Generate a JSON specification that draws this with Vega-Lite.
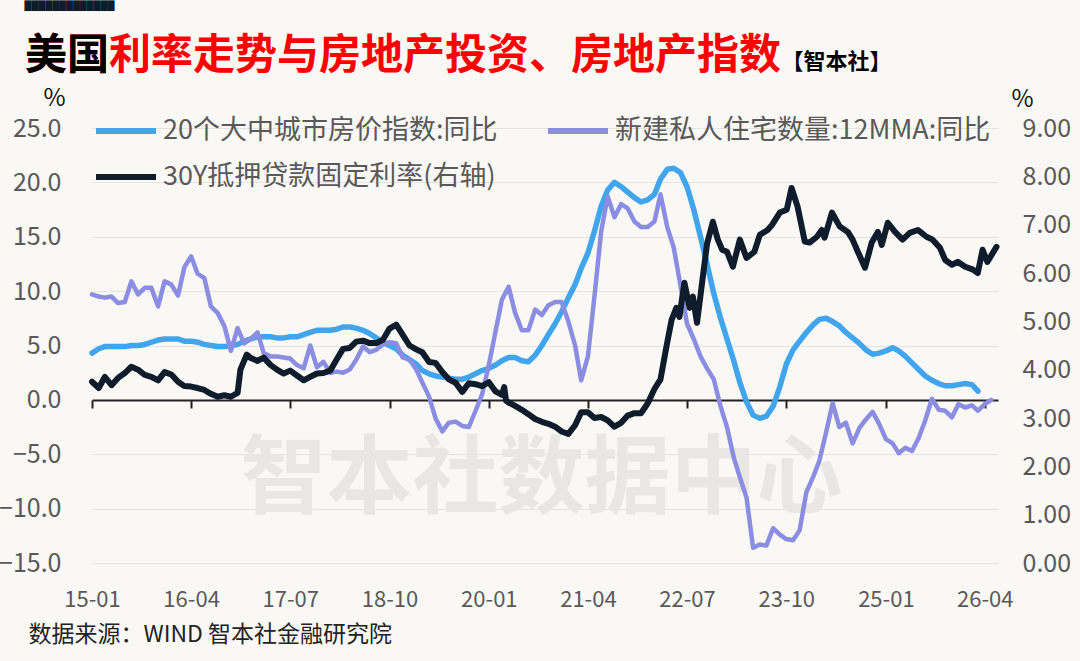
{
  "$schema": "https://vega.github.io/schema/vega-lite/v6.json",
  "width": 906,
  "height": 435,
  "autosize": {"type": "none"},
  "padding": {"left": 92, "top": 128, "right": 82, "bottom": 98},
  "background": "#f9f8f5",
  "title": {
    "text": "美国利率走势与房地产投资、房地产指数",
    "subtitle": "美国",
    "anchor": "start",
    "frame": "group",
    "dx": -67,
    "offset": -77,
    "font": "Noto Sans CJK SC",
    "fontSize": 42,
    "fontWeight": "bold",
    "color": "#ff0000",
    "subtitleFont": "Noto Sans CJK SC",
    "subtitleFontSize": 42,
    "subtitleFontWeight": "bold",
    "subtitleColor": "#000000",
    "subtitlePadding": -42
  },
  "datasets": {
    "house": [
      {"d":"2015/01/01","a":4.3,"b":9.7},
      {"d":"2015/02/01","a":4.7,"b":9.5},
      {"d":"2015/03/01","a":4.9,"b":9.4},
      {"d":"2015/04/01","a":4.9,"b":9.5},
      {"d":"2015/05/01","a":4.9,"b":8.9},
      {"d":"2015/06/01","a":4.9,"b":9.0},
      {"d":"2015/07/01","a":5.0,"b":10.9},
      {"d":"2015/08/01","a":5.0,"b":9.7},
      {"d":"2015/09/01","a":5.1,"b":10.3},
      {"d":"2015/10/01","a":5.3,"b":10.3},
      {"d":"2015/11/01","a":5.5,"b":8.6},
      {"d":"2015/12/01","a":5.6,"b":10.9},
      {"d":"2016/01/01","a":5.6,"b":10.6},
      {"d":"2016/02/01","a":5.6,"b":9.6},
      {"d":"2016/03/01","a":5.4,"b":12.2},
      {"d":"2016/04/01","a":5.4,"b":13.2},
      {"d":"2016/05/01","a":5.3,"b":11.6},
      {"d":"2016/06/01","a":5.1,"b":11.2},
      {"d":"2016/07/01","a":5.0,"b":8.6},
      {"d":"2016/08/01","a":4.9,"b":8.0},
      {"d":"2016/09/01","a":4.9,"b":6.8},
      {"d":"2016/10/01","a":5.0,"b":4.5},
      {"d":"2016/11/01","a":5.1,"b":6.6},
      {"d":"2016/12/01","a":5.4,"b":5.2},
      {"d":"2017/01/01","a":5.6,"b":5.6},
      {"d":"2017/02/01","a":5.8,"b":6.2},
      {"d":"2017/03/01","a":5.8,"b":4.3},
      {"d":"2017/04/01","a":5.8,"b":4.0},
      {"d":"2017/05/01","a":5.7,"b":4.0},
      {"d":"2017/06/01","a":5.7,"b":3.9},
      {"d":"2017/07/01","a":5.8,"b":3.8},
      {"d":"2017/08/01","a":5.8,"b":3.2},
      {"d":"2017/09/01","a":6.0,"b":2.9},
      {"d":"2017/10/01","a":6.2,"b":5.0},
      {"d":"2017/11/01","a":6.4,"b":3.0},
      {"d":"2017/12/01","a":6.4,"b":3.5},
      {"d":"2018/01/01","a":6.4,"b":2.5},
      {"d":"2018/02/01","a":6.5,"b":2.6},
      {"d":"2018/03/01","a":6.7,"b":2.5},
      {"d":"2018/04/01","a":6.7,"b":2.8},
      {"d":"2018/05/01","a":6.6,"b":3.7},
      {"d":"2018/06/01","a":6.4,"b":4.9},
      {"d":"2018/07/01","a":6.1,"b":4.4},
      {"d":"2018/08/01","a":5.7,"b":4.6},
      {"d":"2018/09/01","a":5.3,"b":5.1},
      {"d":"2018/10/01","a":5.0,"b":5.3},
      {"d":"2018/11/01","a":4.7,"b":5.2},
      {"d":"2018/12/01","a":4.1,"b":3.9},
      {"d":"2019/01/01","a":3.7,"b":3.7},
      {"d":"2019/02/01","a":3.3,"b":2.8},
      {"d":"2019/03/01","a":2.7,"b":1.6},
      {"d":"2019/04/01","a":2.4,"b":0.3},
      {"d":"2019/05/01","a":2.2,"b":-1.7},
      {"d":"2019/06/01","a":2.1,"b":-2.9},
      {"d":"2019/07/01","a":2.0,"b":-2.1},
      {"d":"2019/08/01","a":1.9,"b":-2.0},
      {"d":"2019/09/01","a":1.9,"b":-2.4},
      {"d":"2019/10/01","a":2.1,"b":-2.5},
      {"d":"2019/11/01","a":2.4,"b":-1.0},
      {"d":"2019/12/01","a":2.7,"b":0.5},
      {"d":"2020/01/01","a":2.9,"b":3.2},
      {"d":"2020/02/01","a":3.2,"b":6.3},
      {"d":"2020/03/01","a":3.6,"b":9.2},
      {"d":"2020/04/01","a":3.9,"b":10.4},
      {"d":"2020/05/01","a":3.9,"b":8.0},
      {"d":"2020/06/01","a":3.6,"b":6.4},
      {"d":"2020/07/01","a":3.5,"b":6.4},
      {"d":"2020/08/01","a":4.1,"b":8.3},
      {"d":"2020/09/01","a":5.0,"b":7.8},
      {"d":"2020/10/01","a":6.0,"b":8.7},
      {"d":"2020/11/01","a":7.0,"b":9.0},
      {"d":"2020/12/01","a":8.1,"b":9.0},
      {"d":"2021/01/01","a":9.4,"b":7.2},
      {"d":"2021/02/01","a":10.6,"b":5.0},
      {"d":"2021/03/01","a":12.1,"b":1.8},
      {"d":"2021/04/01","a":13.5,"b":4.0},
      {"d":"2021/05/01","a":15.5,"b":9.5},
      {"d":"2021/06/01","a":17.8,"b":15.5},
      {"d":"2021/07/01","a":19.3,"b":18.7},
      {"d":"2021/08/01","a":20.0,"b":16.8},
      {"d":"2021/09/01","a":19.6,"b":18.0},
      {"d":"2021/10/01","a":19.1,"b":17.6},
      {"d":"2021/11/01","a":18.6,"b":16.4},
      {"d":"2021/12/01","a":18.2,"b":15.9},
      {"d":"2022/01/01","a":18.4,"b":15.9},
      {"d":"2022/02/01","a":18.9,"b":16.4},
      {"d":"2022/03/01","a":20.3,"b":18.9},
      {"d":"2022/04/01","a":21.2,"b":15.9},
      {"d":"2022/05/01","a":21.3,"b":14.0},
      {"d":"2022/06/01","a":20.9,"b":10.5},
      {"d":"2022/07/01","a":19.6,"b":7.0},
      {"d":"2022/08/01","a":17.5,"b":5.6},
      {"d":"2022/09/01","a":15.0,"b":4.0},
      {"d":"2022/10/01","a":12.5,"b":2.9},
      {"d":"2022/11/01","a":9.8,"b":1.9},
      {"d":"2022/12/01","a":7.6,"b":-0.5},
      {"d":"2023/01/01","a":5.6,"b":-2.5},
      {"d":"2023/02/01","a":3.6,"b":-5.3},
      {"d":"2023/03/01","a":1.6,"b":-7.1},
      {"d":"2023/04/01","a":-0.2,"b":-9.0},
      {"d":"2023/05/01","a":-1.4,"b":-13.6},
      {"d":"2023/06/01","a":-1.7,"b":-13.3},
      {"d":"2023/07/01","a":-1.5,"b":-13.4},
      {"d":"2023/08/01","a":-0.6,"b":-11.8},
      {"d":"2023/09/01","a":1.2,"b":-12.4},
      {"d":"2023/10/01","a":3.3,"b":-12.8},
      {"d":"2023/11/01","a":4.6,"b":-12.9},
      {"d":"2023/12/01","a":5.4,"b":-12.0},
      {"d":"2024/01/01","a":6.2,"b":-8.5},
      {"d":"2024/02/01","a":6.9,"b":-7.1},
      {"d":"2024/03/01","a":7.4,"b":-5.6},
      {"d":"2024/04/01","a":7.5,"b":-3.0},
      {"d":"2024/05/01","a":7.2,"b":-0.3},
      {"d":"2024/06/01","a":6.8,"b":-2.5},
      {"d":"2024/07/01","a":6.2,"b":-2.1},
      {"d":"2024/08/01","a":5.7,"b":-4.0},
      {"d":"2024/09/01","a":5.2,"b":-2.6},
      {"d":"2024/10/01","a":4.6,"b":-1.8},
      {"d":"2024/11/01","a":4.2,"b":-1.1},
      {"d":"2024/12/01","a":4.3,"b":-2.2},
      {"d":"2025/01/01","a":4.5,"b":-3.6},
      {"d":"2025/02/01","a":4.8,"b":-4.0},
      {"d":"2025/03/01","a":4.5,"b":-4.9},
      {"d":"2025/04/01","a":4.0,"b":-4.4},
      {"d":"2025/05/01","a":3.4,"b":-4.7},
      {"d":"2025/06/01","a":2.8,"b":-3.5},
      {"d":"2025/07/01","a":2.2,"b":-1.9},
      {"d":"2025/08/01","a":1.8,"b":0.1},
      {"d":"2025/09/01","a":1.5,"b":-0.9},
      {"d":"2025/10/01","a":1.3,"b":-1.0},
      {"d":"2025/11/01","a":1.3,"b":-1.6},
      {"d":"2025/12/01","a":1.4,"b":-0.4},
      {"d":"2026/01/01","a":1.5,"b":-0.7},
      {"d":"2026/02/01","a":1.4,"b":-0.5},
      {"d":"2026/03/01","a":0.8,"b":-1.0},
      {"d":"2026/04/01","a":null,"b":-0.4},
      {"d":"2026/05/01","a":null,"b":0.0}
    ],
    "rate": [
      {"d":"2015/01/01","c":3.75},
      {"d":"2015/02/01","c":3.62},
      {"d":"2015/03/01","c":3.85},
      {"d":"2015/04/01","c":3.68},
      {"d":"2015/05/01","c":3.83},
      {"d":"2015/06/01","c":3.93},
      {"d":"2015/07/01","c":4.06},
      {"d":"2015/08/01","c":4.0},
      {"d":"2015/09/01","c":3.89},
      {"d":"2015/10/01","c":3.85},
      {"d":"2015/11/01","c":3.78},
      {"d":"2015/12/01","c":3.95},
      {"d":"2016/01/01","c":3.90},
      {"d":"2016/02/01","c":3.75},
      {"d":"2016/03/01","c":3.66},
      {"d":"2016/04/01","c":3.65},
      {"d":"2016/05/01","c":3.62},
      {"d":"2016/06/01","c":3.58},
      {"d":"2016/07/01","c":3.50},
      {"d":"2016/08/01","c":3.44},
      {"d":"2016/09/01","c":3.47},
      {"d":"2016/10/01","c":3.44},
      {"d":"2016/11/01","c":3.52},
      {"d":"2016/11/14","c":4.0},
      {"d":"2016/12/13","c":4.31},
      {"d":"2017/01/01","c":4.24},
      {"d":"2017/02/01","c":4.18},
      {"d":"2017/03/01","c":4.25},
      {"d":"2017/04/01","c":4.10},
      {"d":"2017/05/01","c":4.00},
      {"d":"2017/06/01","c":3.92},
      {"d":"2017/07/01","c":3.98},
      {"d":"2017/08/01","c":3.88},
      {"d":"2017/09/01","c":3.78},
      {"d":"2017/10/01","c":3.85},
      {"d":"2017/11/01","c":3.92},
      {"d":"2017/12/01","c":3.93},
      {"d":"2018/01/01","c":3.98},
      {"d":"2018/02/01","c":4.22},
      {"d":"2018/03/01","c":4.43},
      {"d":"2018/04/01","c":4.45},
      {"d":"2018/05/01","c":4.58},
      {"d":"2018/06/01","c":4.60},
      {"d":"2018/07/01","c":4.55},
      {"d":"2018/08/01","c":4.55},
      {"d":"2018/09/01","c":4.62},
      {"d":"2018/10/01","c":4.85},
      {"d":"2018/11/01","c":4.93},
      {"d":"2018/12/01","c":4.72},
      {"d":"2019/01/01","c":4.50},
      {"d":"2019/02/01","c":4.42},
      {"d":"2019/03/01","c":4.36},
      {"d":"2019/04/01","c":4.16},
      {"d":"2019/05/01","c":4.14},
      {"d":"2019/06/01","c":3.95},
      {"d":"2019/07/01","c":3.80},
      {"d":"2019/08/01","c":3.73},
      {"d":"2019/09/01","c":3.54},
      {"d":"2019/10/01","c":3.72},
      {"d":"2019/11/01","c":3.70},
      {"d":"2019/12/01","c":3.66},
      {"d":"2020/01/01","c":3.74},
      {"d":"2020/02/01","c":3.55},
      {"d":"2020/03/01","c":3.48},
      {"d":"2020/03/12","c":3.64},
      {"d":"2020/03/20","c":3.36},
      {"d":"2020/04/01","c":3.32},
      {"d":"2020/05/01","c":3.25},
      {"d":"2020/06/01","c":3.17},
      {"d":"2020/07/01","c":3.08},
      {"d":"2020/08/01","c":2.98},
      {"d":"2020/09/01","c":2.92},
      {"d":"2020/10/01","c":2.88},
      {"d":"2020/11/01","c":2.82},
      {"d":"2020/12/01","c":2.72},
      {"d":"2021/01/01","c":2.67},
      {"d":"2021/02/01","c":2.85},
      {"d":"2021/03/01","c":3.12},
      {"d":"2021/04/01","c":3.12},
      {"d":"2021/05/01","c":3.0},
      {"d":"2021/06/01","c":3.02},
      {"d":"2021/07/01","c":2.95},
      {"d":"2021/08/01","c":2.82},
      {"d":"2021/09/01","c":2.90},
      {"d":"2021/10/01","c":3.05},
      {"d":"2021/11/01","c":3.10},
      {"d":"2021/12/01","c":3.10},
      {"d":"2022/01/01","c":3.30},
      {"d":"2022/02/01","c":3.60},
      {"d":"2022/03/01","c":3.80},
      {"d":"2022/03/28","c":4.47},
      {"d":"2022/04/21","c":5.03},
      {"d":"2022/05/13","c":5.28},
      {"d":"2022/05/27","c":5.09},
      {"d":"2022/06/19","c":5.80},
      {"d":"2022/07/13","c":5.28},
      {"d":"2022/07/28","c":5.51},
      {"d":"2022/08/16","c":4.97},
      {"d":"2022/09/10","c":5.86},
      {"d":"2022/10/01","c":6.60},
      {"d":"2022/10/28","c":7.06},
      {"d":"2022/11/19","c":6.70},
      {"d":"2022/12/10","c":6.48},
      {"d":"2023/01/01","c":6.44},
      {"d":"2023/01/28","c":6.13},
      {"d":"2023/03/01","c":6.69},
      {"d":"2023/04/01","c":6.31},
      {"d":"2023/05/07","c":6.44},
      {"d":"2023/06/01","c":6.79},
      {"d":"2023/07/07","c":6.89},
      {"d":"2023/07/28","c":7.00},
      {"d":"2023/09/01","c":7.25},
      {"d":"2023/10/03","c":7.31},
      {"d":"2023/10/25","c":7.76},
      {"d":"2023/11/22","c":7.37},
      {"d":"2023/12/25","c":6.65},
      {"d":"2024/01/16","c":6.63},
      {"d":"2024/02/19","c":6.75},
      {"d":"2024/03/12","c":6.89},
      {"d":"2024/03/25","c":6.73},
      {"d":"2024/04/28","c":7.25},
      {"d":"2024/06/03","c":6.96},
      {"d":"2024/07/10","c":6.85},
      {"d":"2024/08/01","c":6.69},
      {"d":"2024/08/25","c":6.44},
      {"d":"2024/09/27","c":6.11},
      {"d":"2024/10/28","c":6.63},
      {"d":"2024/11/25","c":6.85},
      {"d":"2024/12/13","c":6.58},
      {"d":"2025/01/10","c":7.04},
      {"d":"2025/02/12","c":6.85},
      {"d":"2025/03/19","c":6.69},
      {"d":"2025/04/21","c":6.83},
      {"d":"2025/05/28","c":6.89},
      {"d":"2025/07/07","c":6.75},
      {"d":"2025/08/04","c":6.69},
      {"d":"2025/09/07","c":6.52},
      {"d":"2025/10/01","c":6.27},
      {"d":"2025/11/01","c":6.17},
      {"d":"2025/11/28","c":6.23},
      {"d":"2026/01/01","c":6.13},
      {"d":"2026/02/06","c":6.07},
      {"d":"2026/02/28","c":6.00},
      {"d":"2026/03/22","c":6.48},
      {"d":"2026/04/13","c":6.23},
      {"d":"2026/05/25","c":6.54}
    ]
  },
  "layer": [
    {
      "data": {"name": "house"},
      "mark": {"type": "line", "strokeWidth": 5.5, "strokeJoin": "round", "strokeCap": "round"},
      "encoding": {
        "x": {
          "field": "d", "type": "temporal",
          "scale": {"domain": [{"year": 2015, "month": 1, "date": 1}, {"year": 2026, "month": 6, "date": 1}], "nice": false},
          "axis": {
            "orient": "bottom",
            "values": [{"year": 2015, "month": 1, "date": 1}, {"year": 2016, "month": 4, "date": 1}, {"year": 2017, "month": 7, "date": 1}, {"year": 2018, "month": 10, "date": 1}, {"year": 2020, "month": 1, "date": 1}, {"year": 2021, "month": 4, "date": 1}, {"year": 2022, "month": 7, "date": 1}, {"year": 2023, "month": 10, "date": 1}, {"year": 2025, "month": 1, "date": 1}, {"year": 2026, "month": 4, "date": 1}],
            "format": "%y-%m",
            "labelFontSize": 22, "labelColor": "#595959", "labelPadding": 26, "labelFlush": false, "labelOverlap": false,
            "domain": false, "ticks": false, "grid": false,
            "title": "数据来源：WIND 智本社金融研究院",
            "titleX": -64, "titleY": 71, "titleAlign": "left", "titleBaseline": "middle",
            "titleFontSize": 23, "titleFontWeight": "normal", "titleColor": "#222222"
          }
        },
        "y": {
          "field": "a", "type": "quantitative",
          "scale": {"domain": [-15, 25], "nice": false, "zero": false},
          "axis": {
            "orient": "left",
            "values": [-15, -10, -5, 0, 5, 10, 15, 20, 25],
            "format": ".1f",
            "labelFontSize": 25, "labelColor": "#595959", "labelPadding": 31,
            "ticks": false, "domain": false, "grid": true, "gridColor": "#e4e3e0", "gridWidth": 1.2,
            "title": "%", "titleAngle": 0, "titleX": -38, "titleY": -30, "titleAlign": "center", "titleBaseline": "middle",
            "titleFontSize": 24, "titleFontWeight": "normal", "titleColor": "#111111"
          }
        },
        "color": {
          "datum": "20个大中城市房价指数:同比", "type": "nominal",
          "scale": {"domain": ["20个大中城市房价指数:同比", "新建私人住宅数量:12MMA:同比", "30Y抵押贷款固定利率(右轴)"], "range": ["#41a5ee", "#8a8de2", "#0f1c2b"]},
          "legend": {
            "orient": "none", "legendX": 1, "legendY": -30, "columns": 2, "direction": "horizontal",
            "title": null, "padding": 0,
            "symbolType": "stroke", "symbolSize": 3600, "symbolStrokeWidth": 6,
            "labelFontSize": 27, "labelColor": "#595959", "labelOffset": 4, "labelLimit": 600,
            "columnPadding": 38, "rowPadding": -8
          }
        }
      }
    },
    {
      "data": {"name": "house"},
      "mark": {"type": "line", "strokeWidth": 4.5, "strokeJoin": "round", "strokeCap": "round"},
      "encoding": {
        "x": {
          "field": "d", "type": "temporal",
          "axis": {
            "orient": "bottom", "offset": -163,
            "values": [{"year": 2015, "month": 1, "date": 1}, {"year": 2016, "month": 4, "date": 1}, {"year": 2017, "month": 7, "date": 1}, {"year": 2018, "month": 10, "date": 1}, {"year": 2020, "month": 1, "date": 1}, {"year": 2021, "month": 4, "date": 1}, {"year": 2022, "month": 7, "date": 1}, {"year": 2023, "month": 10, "date": 1}, {"year": 2025, "month": 1, "date": 1}, {"year": 2026, "month": 4, "date": 1}],
            "labels": false, "grid": false,
            "domain": true, "domainColor": "#222222", "domainWidth": 2,
            "ticks": true, "tickSize": 8, "tickColor": "#222222", "tickWidth": 2,
            "title": "智本社数据中心",
            "titleX": 449, "titleY": 80, "titleAlign": "center", "titleBaseline": "middle",
            "titleFontSize": 86, "titleFontWeight": "bold", "titleColor": "#e8e7e3"
          }
        },
        "y": {
          "field": "b", "type": "quantitative",
          "scale": {"domain": [-15, 25], "nice": false, "zero": false},
          "axis": {
            "orient": "left", "labels": false, "ticks": false, "domain": false, "grid": false,
            "title": "█████████████", "titleAngle": 0, "titleX": -68, "titleY": -127,
            "titleAlign": "left", "titleBaseline": "top",
            "titleFont": "DejaVu Sans", "titleFontSize": 9, "titleFontWeight": "normal", "titleColor": "#0f1c2b"
          }
        },
        "color": {"datum": "新建私人住宅数量:12MMA:同比", "type": "nominal"}
      }
    },
    {
      "data": {"name": "rate"},
      "mark": {"type": "line", "strokeWidth": 6, "strokeJoin": "round", "strokeCap": "round"},
      "encoding": {
        "x": {
          "field": "d", "type": "temporal",
          "axis": {
            "orient": "top", "labels": false, "ticks": false, "domain": false, "grid": false,
            "title": "【智本社】",
            "titleX": 689, "titleY": -67, "titleAlign": "left", "titleBaseline": "middle",
            "titleFontSize": 22, "titleFontWeight": "bold", "titleColor": "#000000"
          }
        },
        "y": {
          "field": "c", "type": "quantitative",
          "scale": {"domain": [0, 9], "nice": false, "zero": false},
          "axis": {
            "orient": "right",
            "values": [0, 1, 2, 3, 4, 5, 6, 7, 8, 9],
            "format": ".2f",
            "labelFontSize": 25, "labelColor": "#595959", "labelPadding": 24,
            "ticks": false, "domain": false, "grid": false,
            "title": "%", "titleAngle": 0, "titleX": 24, "titleY": -29, "titleAlign": "center", "titleBaseline": "middle",
            "titleFontSize": 24, "titleFontWeight": "normal", "titleColor": "#111111"
          }
        },
        "color": {"datum": "30Y抵押贷款固定利率(右轴)", "type": "nominal"}
      }
    }
  ],
  "resolve": {
    "scale": {"y": "independent"},
    "axis": {"x": "independent", "y": "independent"}
  },
  "config": {
    "view": {"stroke": null},
    "font": "Noto Sans CJK SC",
    "axis": {"labelFont": "Noto Sans CJK SC", "titleFont": "Noto Sans CJK SC"},
    "legend": {"labelFont": "Noto Sans CJK SC"}
  }
}
